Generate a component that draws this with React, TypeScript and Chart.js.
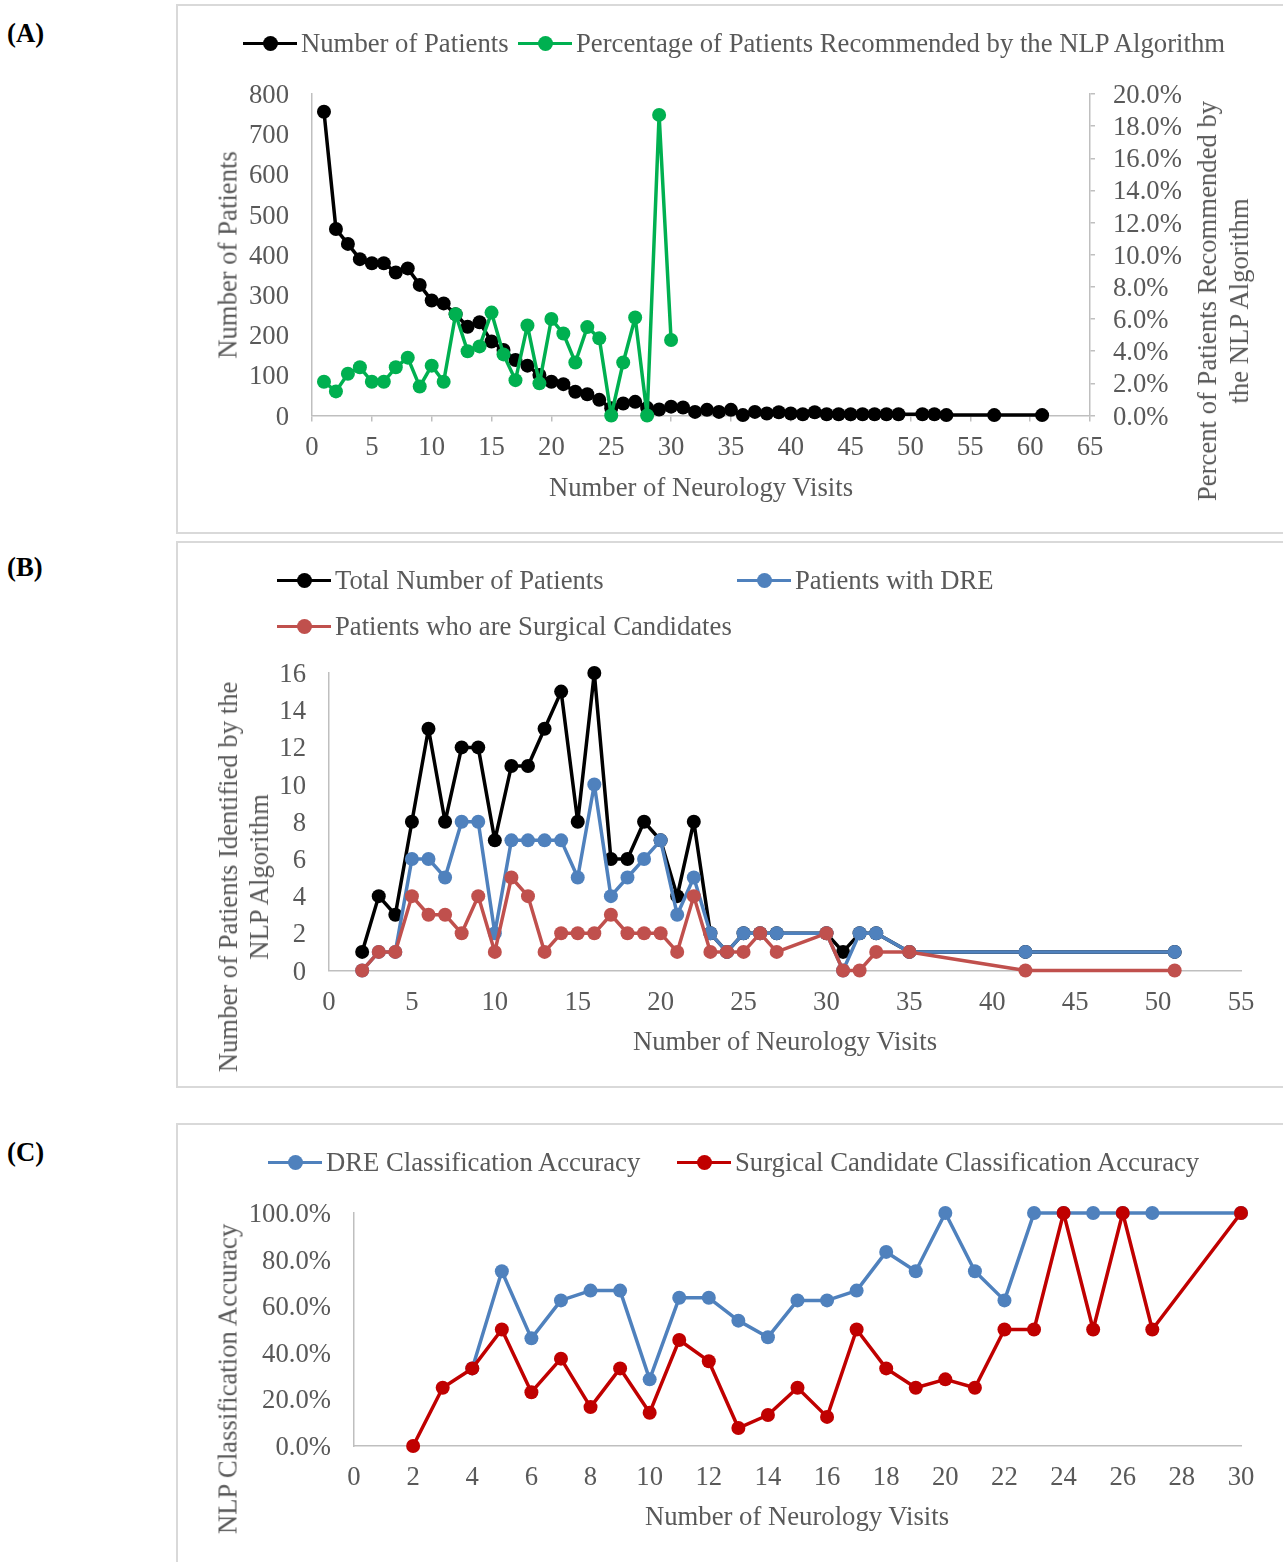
import React, { useEffect, useRef } from 'react';
import { Chart, registerables } from 'chart.js';

Chart.register(...registerables);

document.body.style.margin = '0';
document.body.style.overflow = 'hidden';

// ---------------- DATA ----------------
// Panel A
const visitsA = [1, 2, 3, 4, 5, 6, 7, 8, 9, 10, 11, 12, 13, 14, 15, 16, 17, 18, 19, 20, 21, 22, 23, 24, 25, 26, 27, 28, 29, 30, 31, 32, 33, 34, 35, 36, 37, 38, 39, 40, 41, 42, 43, 44, 45, 46, 47, 48, 49, 51, 52, 53, 57, 61];
const patientsA = [756, 464, 427, 389, 379, 379, 356, 366, 325, 286, 279, 252, 221, 232, 184, 163, 138, 124, 101, 84, 78, 59, 53, 39, 18, 30, 34, 19, 15, 22, 20, 9, 14, 9, 14, 1, 9, 5, 8, 5, 3, 8, 3, 3, 3, 3, 3, 3, 3, 3, 3, 1, 1, 1];
const pctVisitsA = [1, 2, 3, 4, 5, 6, 7, 8, 9, 10, 11, 12, 13, 14, 15, 16, 17, 18, 19, 20, 21, 22, 23, 24, 25, 26, 27, 28, 29, 30];
const pctRecommendedA = [2.1, 1.5, 2.6, 3.0, 2.1, 2.1, 3.0, 3.6, 1.8, 3.1, 2.1, 6.3, 4.0, 4.3, 6.4, 3.8, 2.2, 5.6, 2.0, 6.0, 5.1, 3.3, 5.5, 4.8, 0.0, 3.3, 6.1, 0.0, 18.7, 4.7];

// Panel B
const visitsB = [2, 3, 4, 5, 6, 7, 8, 9, 10, 11, 12, 13, 14, 15, 16, 17, 18, 19, 20, 21, 22, 23, 24, 25, 26, 27, 30, 31, 32, 33, 35, 42, 51];
const totalB = [1, 4, 3, 8, 13, 8, 12, 12, 7, 11, 11, 13, 15, 8, 16, 6, 6, 8, 7, 4, 8, 2, 1, 2, 2, 2, 2, 1, 2, 2, 1, 1, 1];
const dreB = [0, 1, 1, 6, 6, 5, 8, 8, 2, 7, 7, 7, 7, 5, 10, 4, 5, 6, 7, 3, 5, 2, 1, 2, 2, 2, 2, 0, 2, 2, 1, 1, 1];
const surgicalB = [0, 1, 1, 4, 3, 3, 2, 4, 1, 5, 4, 1, 2, 2, 2, 3, 2, 2, 2, 1, 4, 1, 1, 1, 2, 1, 2, 0, 0, 1, 1, 0, 0];

// Panel C
const dreVisitsC = [4, 5, 6, 7, 8, 9, 10, 11, 12, 13, 14, 15, 16, 17, 18, 19, 20, 21, 22, 23, 24, 25, 26, 27, 30];
const dreAccC = [33.3, 75.0, 46.2, 62.5, 66.7, 66.7, 28.6, 63.6, 63.6, 53.8, 46.7, 62.5, 62.5, 66.7, 83.3, 75.0, 100.0, 75.0, 62.5, 100.0, 100.0, 100.0, 100.0, 100.0, 100.0];
const surgVisitsC = [2, 3, 4, 5, 6, 7, 8, 9, 10, 11, 12, 13, 14, 15, 16, 17, 18, 19, 20, 21, 22, 23, 24, 25, 26, 27, 30];
const surgAccC = [0.0, 25.0, 33.3, 50.0, 23.1, 37.5, 16.7, 33.3, 14.3, 45.5, 36.4, 7.7, 13.3, 25.0, 12.5, 50.0, 33.3, 25.0, 28.6, 25.0, 50.0, 50.0, 100.0, 50.0, 100.0, 50.0, 100.0];

// ---------------- STYLE ----------------
const FONT = "'Liberation Serif', 'Times New Roman', serif";
const TEXT = '#595959';
const AXIS = '#bfbfbf';
const BLACK = '#000000';
const GREEN = '#00b050';
const BLUE = '#4f81bd';
const RED_B = '#c0504d';
const RED_C = '#c00000';
const FS = 26.7;

type Rect = { left: number; top: number; width: number; height: number };
type Plot = { L: number; T: number; R: number; B: number };

const pts = (xs: number[], ys: number[]) => xs.map((x, i) => ({ x, y: ys[i] }));

function series(label: string, xs: number[], ys: number[], color: string, order: number) {
  return {
    label,
    data: pts(xs, ys),
    borderColor: color,
    backgroundColor: color,
    pointBackgroundColor: color,
    pointBorderColor: color,
    borderWidth: 3.5,
    borderJoinStyle: 'round',
    borderCapStyle: 'round',
    pointRadius: 7,
    pointBorderWidth: 0,
    pointHoverRadius: 7,
    tension: 0,
    clip: false as any,
    order,
  };
}

const AXW = 120; // fixed width of vertical axes
const AXH = 60; // fixed height of horizontal axes

function padFor(c: Rect, p: Plot, wL: number, wR: number, hX: number) {
  return {
    left: p.L - c.left - wL,
    right: c.left + c.width - p.R - wR,
    top: p.T - c.top,
    bottom: c.top + c.height - p.B - hX,
  };
}

const tickFont = { family: FONT, size: FS };

function xScale(min: number, max: number, step: number, withTicks: boolean) {
  return {
    type: 'linear',
    min,
    max,
    ticks: {
      stepSize: step,
      autoSkip: false,
      maxRotation: 0,
      font: tickFont,
      color: TEXT,
      padding: withTicks ? 10 : 16,
    },
    grid: withTicks
      ? { display: true, drawOnChartArea: false, drawTicks: true, tickLength: 6, color: AXIS, lineWidth: 1.5 }
      : { display: false, drawTicks: false },
    border: { display: true, color: AXIS, width: 1.5 },
    afterFit: (s: any) => {
      s.height = AXH;
    },
  };
}

function yScale(min: number, max: number, step: number, fmt?: (v: number) => string) {
  return {
    type: 'linear',
    position: 'left',
    min,
    max,
    ticks: {
      stepSize: step,
      autoSkip: false,
      font: tickFont,
      color: TEXT,
      padding: 23,
      labelOffset: 2,
      callback: fmt ? (v: any) => fmt(Number(v)) : undefined,
    },
    grid: { display: false, drawTicks: false },
    border: { display: true, color: AXIS, width: 1.5 },
    afterFit: (s: any) => {
      s.width = AXW;
    },
  };
}

const pctFmt = (v: number) => v.toFixed(1) + '%';

// ---------------- LAYOUT ----------------
const canvasA: Rect = { left: 180, top: 8, width: 1103, height: 522 };
const plotA: Plot = { L: 312, T: 94, R: 1090, B: 415.5 };
const canvasB: Rect = { left: 180, top: 545, width: 1103, height: 541 };
const plotB: Plot = { L: 329, T: 673, R: 1241, B: 970.5 };
const canvasC: Rect = { left: 180, top: 1126, width: 1103, height: 436 };
const plotC: Plot = { L: 354, T: 1213, R: 1241, B: 1446 };

const baseOptions = {
  responsive: false,
  maintainAspectRatio: false,
  animation: false,
  devicePixelRatio: 1,
  events: [],
  plugins: { legend: { display: false }, tooltip: { enabled: false }, title: { display: false } },
};

function configA() {
  return {
    type: 'line',
    data: {
      datasets: [
        { ...series('Number of Patients', visitsA, patientsA, BLACK, 2), yAxisID: 'y' },
        { ...series('Percentage of Patients Recommended by the NLP Algorithm', pctVisitsA, pctRecommendedA, GREEN, 1), yAxisID: 'y2' },
      ],
    },
    options: {
      ...baseOptions,
      layout: { padding: padFor(canvasA, plotA, AXW, AXW, AXH) },
      scales: {
        x: xScale(0, 65, 5, true),
        y: yScale(0, 800, 100),
        y2: {
          type: 'linear',
          position: 'right',
          min: 0,
          max: 20,
          ticks: { stepSize: 2, autoSkip: false, font: tickFont, color: TEXT, padding: 18, labelOffset: 2, callback: (v: any) => pctFmt(Number(v)) },
          grid: { display: true, drawOnChartArea: false, drawTicks: true, tickLength: 5, color: AXIS, lineWidth: 1.5 },
          border: { display: true, color: AXIS, width: 1.5 },
          afterFit: (s: any) => {
            s.width = AXW;
          },
        },
      },
    },
  };
}

function configB() {
  return {
    type: 'line',
    data: {
      datasets: [
        series('Total Number of Patients', visitsB, totalB, BLACK, 3),
        series('Patients with DRE', visitsB, dreB, BLUE, 2),
        series('Patients who are Surgical Candidates', visitsB, surgicalB, RED_B, 1),
      ],
    },
    options: {
      ...baseOptions,
      layout: { padding: padFor(canvasB, plotB, AXW, 0, AXH) },
      scales: {
        x: xScale(0, 55, 5, false),
        y: yScale(0, 16, 2),
      },
    },
  };
}

function configC() {
  return {
    type: 'line',
    data: {
      datasets: [
        series('DRE Classification Accuracy', dreVisitsC, dreAccC, BLUE, 2),
        series('Surgical Candidate Classification Accuracy', surgVisitsC, surgAccC, RED_C, 1),
      ],
    },
    options: {
      ...baseOptions,
      layout: { padding: padFor(canvasC, plotC, AXW, 0, AXH) },
      scales: {
        x: xScale(0, 30, 2, false),
        y: yScale(0, 100, 20, pctFmt),
      },
    },
  };
}

// ---------------- COMPONENTS ----------------
function ChartCanvas({ rect, config }: { rect: Rect; config: () => any }) {
  const ref = useRef<HTMLCanvasElement | null>(null);
  useEffect(() => {
    if (!ref.current) return;
    const chart = new Chart(ref.current, config());
    return () => chart.destroy();
  }, []);
  return (
    <canvas
      ref={ref}
      width={rect.width}
      height={rect.height}
      style={{ position: 'absolute', left: rect.left, top: rect.top, width: rect.width, height: rect.height, display: 'block' }}
    />
  );
}

const textStyle: React.CSSProperties = {
  position: 'absolute',
  fontFamily: FONT,
  fontSize: FS,
  color: TEXT,
  whiteSpace: 'nowrap',
  lineHeight: '31px',
};

function HText({ cx, cy, children }: { cx: number; cy: number; children: React.ReactNode }) {
  return <div style={{ ...textStyle, left: cx, top: cy, transform: 'translate(-50%, -50%)', textAlign: 'center' }}>{children}</div>;
}

function VText({ cx, cy, children, lh = 31 }: { cx: number; cy: number; children: React.ReactNode; lh?: number }) {
  return (
    <div
      style={{
        ...textStyle,
        lineHeight: lh + 'px',
        left: cx,
        top: cy,
        transform: 'translate(-50%, -50%) rotate(-90deg)',
        textAlign: 'center',
      }}
    >
      {children}
    </div>
  );
}

function LegendItem({ x, cy, color, label }: { x: number; cy: number; color: string; label: string }) {
  return (
    <div style={{ position: 'absolute', left: x, top: cy - 16, height: 32, display: 'flex', alignItems: 'center' }}>
      <div style={{ position: 'relative', width: 54, height: 32 }}>
        <div style={{ position: 'absolute', left: 0, top: 14.5, width: 54, height: 3.5, background: color }} />
        <div style={{ position: 'absolute', left: 20, top: 8.5, width: 15, height: 15, borderRadius: '50%', background: color }} />
      </div>
      <span style={{ fontFamily: FONT, fontSize: FS, color: TEXT, marginLeft: 4, whiteSpace: 'nowrap', lineHeight: '32px' }}>{label}</span>
    </div>
  );
}

function Box({ top, height }: { top: number; height: number }) {
  return (
    <div
      style={{
        position: 'absolute',
        left: 176,
        top,
        width: 1200,
        height,
        border: '2px solid #d9d9d9',
        boxSizing: 'border-box',
      }}
    />
  );
}

function PanelLabel({ cy, text }: { cy: number; text: string }) {
  return (
    <div
      style={{
        position: 'absolute',
        left: 7,
        top: cy - 16,
        lineHeight: '32px',
        fontFamily: FONT,
        fontSize: FS,
        fontWeight: 'bold',
        color: '#000',
      }}
    >
      {text}
    </div>
  );
}

export default function App() {
  return (
    <div style={{ position: 'relative', width: 1283, height: 1562, overflow: 'hidden', background: '#fff' }}>
      <Box top={4} height={530} />
      <Box top={541} height={547} />
      <Box top={1123} height={500} />

      <PanelLabel cy={33} text="(A)" />
      <PanelLabel cy={567} text="(B)" />
      <PanelLabel cy={1152} text="(C)" />

      {/* Panel A */}
      <ChartCanvas rect={canvasA} config={configA} />
      <LegendItem x={243} cy={43} color={BLACK} label="Number of Patients" />
      <LegendItem x={518} cy={43} color={GREEN} label="Percentage of Patients Recommended by the NLP Algorithm" />
      <VText cx={228} cy={255}>Number of Patients</VText>
      <HText cx={701} cy={487}>Number of Neurology Visits</HText>
      <VText cx={1223} cy={301} lh={32}>
        Percent of Patients Recommended by
        <br />
        the NLP Algorithm
      </VText>

      {/* Panel B */}
      <ChartCanvas rect={canvasB} config={configB} />
      <LegendItem x={277} cy={580} color={BLACK} label="Total Number of Patients" />
      <LegendItem x={737} cy={580} color={BLUE} label="Patients with DRE" />
      <LegendItem x={277} cy={626} color={RED_B} label="Patients who are Surgical Candidates" />
      <VText cx={243.5} cy={877}>
        Number of Patients Identified by the
        <br />
        NLP Algorithm
      </VText>
      <HText cx={785} cy={1041}>Number of Neurology Visits</HText>

      {/* Panel C */}
      <ChartCanvas rect={canvasC} config={configC} />
      <LegendItem x={268} cy={1162} color={BLUE} label="DRE Classification Accuracy" />
      <LegendItem x={677} cy={1162} color={RED_C} label="Surgical Candidate Classification Accuracy" />
      <VText cx={228} cy={1379}>NLP Classification Accuracy</VText>
      <HText cx={797} cy={1516}>Number of Neurology Visits</HText>
    </div>
  );
}
